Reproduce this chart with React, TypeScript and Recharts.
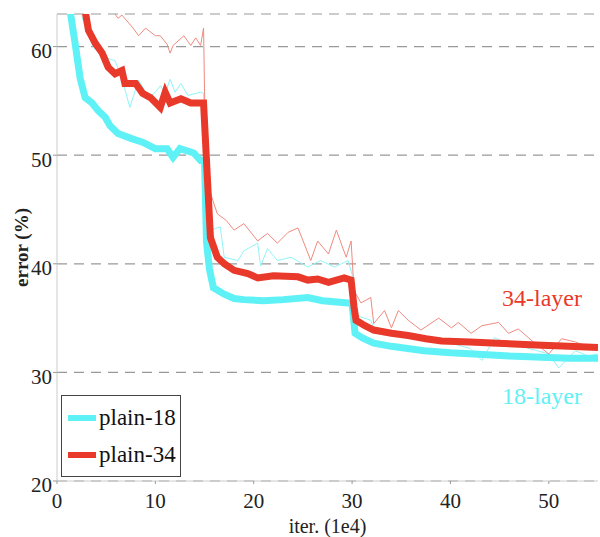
import React from 'react';
import { LineChart, Line, XAxis, YAxis, CartesianGrid } from 'recharts';

// x in 1e4 iterations, y = error (%)
const train18 = [
  [1.5, 70], [2.55, 62.7], [3.7, 59.9], [4.9, 59.0], [5.9, 58.7], [6.6, 57.1], [7.4, 54.4], [8.3, 56.9],
  [9.3, 55.3], [10.0, 55.8], [10.5, 56.4], [11.0, 55.7], [11.5, 57.0], [12.0, 55.8], [12.6, 56.6],
  [13.3, 55.5], [14.6, 55.8], [14.9, 55.7], [15.2, 46], [15.6, 43.1], [16.6, 43.4], [17, 40.6],
  [18.4, 40.3], [19, 41.2], [20.4, 41.9], [20.7, 39.8], [21.4, 41.4], [22.4, 40.3], [23.8, 40.6],
  [25.5, 39.7], [26.8, 40.3], [28.2, 39.7], [29.6, 40.3], [30.0, 39.0], [30.2, 35.4], [30.9, 35.1],
  [31.9, 34.8], [32.2, 34.1], [34, 33.6], [35.7, 33.2], [38, 32.9], [40, 32.7], [42, 32.2],
  [43.2, 31.1], [44.5, 33.2], [46, 32.5], [47.6, 32.3], [50, 31.7], [51, 30.4], [52.7, 32.0],
  [54, 31.5], [55, 31.7],
];

const train34 = [
  [4.0, 70], [5.5, 64], [5.9, 63], [6.2, 62.6], [6.6, 62.9], [7.65, 61.8], [8.3, 61.0], [9.0, 61.7],
  [10.0, 61.0], [10.5, 61.0], [11.2, 60.2], [11.5, 59.4], [11.8, 60.1], [12.9, 61.0], [13.6, 60.1],
  [14.1, 60.8], [14.6, 60.1], [14.9, 61.7], [15.1, 50], [15.6, 46.5], [16.3, 44.6], [17.2, 44.0],
  [18, 43.1], [19, 43.7], [20.4, 42.1], [21.4, 42.8], [22.4, 41.9], [23.5, 42.9], [24.5, 43.3],
  [25.8, 40.3], [26.5, 42.1], [27.6, 40.9], [28.4, 43.1], [29.4, 40.6], [29.9, 42.1], [30.2, 37.5],
  [30.9, 36.4], [31.9, 36.9], [32.2, 34.5], [33.3, 35.7], [34, 34.1], [34.7, 35.7], [35.7, 34.8],
  [37, 33.9], [38.8, 35.0], [40.1, 34.1], [40.8, 34.6], [42.1, 33.6], [43.2, 34.3], [44.9, 34.6],
  [45.9, 33.6], [46.9, 34.0], [48.3, 32.9], [50, 31.7], [51.3, 33.1], [52.7, 32.8], [54.1, 32.3],
  [55, 32.5],
];

const plain18 = [
  [1.0, 66], [1.33, 63.3], [1.84, 60.3], [2.35, 57.1], [2.86, 55.3], [3.57, 54.8], [4.18, 54.1],
  [4.9, 53.5], [5.4, 52.7], [6.2, 52.0], [7.65, 51.5], [8.7, 51.2], [10.0, 50.6], [11.2, 50.6],
  [11.8, 49.8], [12.5, 50.6], [13.9, 50.2], [14.6, 49.5], [15.0, 49.5], [15.2, 42], [15.5, 39.5],
  [15.9, 37.8], [17, 37.2], [18, 36.8], [19, 36.7], [21, 36.6], [23, 36.7], [25.5, 36.9], [27, 36.6],
  [29.6, 36.4], [30.0, 36.3], [30.3, 33.6], [31, 33.2], [32.2, 32.7], [34, 32.4], [37.3, 32.0],
  [40, 31.8], [42.4, 31.7], [46, 31.5], [49.3, 31.4], [52, 31.3], [55, 31.3],
];

const plain34 = [
  [2.5, 67], [2.86, 63.3], [3.2, 61.5], [3.9, 60.3], [4.6, 59.4], [5.2, 58.1], [5.9, 57.5],
  [6.6, 57.8], [6.9, 56.6], [8.0, 56.6], [8.7, 55.7], [9.5, 55.3], [10.5, 54.4], [11.0, 55.8],
  [11.5, 54.8], [12.6, 55.2], [13.6, 54.8], [14.9, 54.8], [15.3, 47.7], [15.6, 42.4], [16.3, 40.6],
  [17, 40.0], [18, 39.4], [19.4, 39.1], [20.4, 38.7], [22, 38.9], [24.5, 38.8], [25.5, 38.5],
  [26.5, 38.6], [27.6, 38.3], [29.2, 38.7], [29.9, 38.5], [30.2, 36], [30.4, 34.8], [31.3, 34.3],
  [32.2, 33.9], [34, 33.6], [35.7, 33.4], [37.5, 33.1], [39.1, 32.9], [42, 32.8], [44.2, 32.7],
  [47, 32.6], [49.3, 32.5], [52, 32.4], [55, 32.3],
];

const xTicks = [0, 10, 20, 30, 40, 50];
const yTicks = [20, 30, 40, 50, 60];

const CYAN = '#5ef1f6';
const RED = '#e8392a';
const FONT = '"Liberation Serif", "Times New Roman", serif';

const toPoints = (arr: number[][]) => arr.map(([x, y]) => ({ x, y }));

const legendItems = [
  { name: 'plain-18', color: CYAN },
  { name: 'plain-34', color: RED },
];

const YLabel = (props: any) => {
  const vb = props.viewBox || {};
  const cy = (vb.y ?? 14) + (vb.height ?? 467) / 2;
  return (
    <text
      x={28}
      y={cy}
      transform={`rotate(-90, 28, ${cy})`}
      textAnchor="middle"
      fill="#222"
      fontSize={19}
      fontWeight="bold"
      fontFamily={FONT}
    >
      error (%)
    </text>
  );
};

export default function App() {
  return (
    <div style={{ position: 'absolute', left: 0, top: 0, width: 600, height: 537, background: '#fff' }}>
      <LineChart width={600} height={537} margin={{ top: 14, right: 2, bottom: 0, left: 0 }}>
        <CartesianGrid vertical={false} stroke="#999" strokeDasharray="10 7" strokeWidth={1.2} />
        <XAxis
          type="number"
          dataKey="x"
          domain={[0, 55]}
          ticks={xTicks}
          allowDataOverflow
          height={56}
          axisLine={{ stroke: '#ccc' }}
          tickLine={{ stroke: '#999' }}
          tickSize={3}
          tickMargin={9}
          tick={{ fill: '#222', fontSize: 21, fontFamily: FONT }}
          label={{ value: 'iter. (1e4)', position: 'insideBottom', offset: 4, fill: '#222', fontSize: 20, fontFamily: FONT }}
        />
        <YAxis
          type="number"
          domain={[20, 63]}
          ticks={yTicks}
          allowDataOverflow
          width={57}
          axisLine={{ stroke: '#ccc' }}
          tickLine={{ stroke: '#999' }}
          tickSize={4}
          tickMargin={1}
          tick={{ fill: '#222', fontSize: 21, fontFamily: FONT, dy: 4 }}
          label={<YLabel />}
        />
        <Line data={toPoints(train18)} dataKey="y" stroke="#8ff5f8" strokeWidth={1} dot={false} isAnimationActive={false} />
        <Line data={toPoints(train34)} dataKey="y" stroke="#f08a80" strokeWidth={1} dot={false} isAnimationActive={false} />
        <Line data={toPoints(plain18)} dataKey="y" name="plain-18" stroke={CYAN} strokeWidth={7} dot={false} isAnimationActive={false} />
        <Line data={toPoints(plain34)} dataKey="y" name="plain-34" stroke={RED} strokeWidth={7} dot={false} isAnimationActive={false} />
      </LineChart>
      <div
        style={{
          position: 'absolute',
          left: 61,
          top: 395,
          width: 120,
          height: 82,
          border: '1px solid #444',
          background: '#fff',
          boxSizing: 'border-box',
          paddingTop: 3,
          fontFamily: FONT,
          fontSize: 23,
          color: '#111',
        }}
      >
        {legendItems.map((item) => (
          <div key={item.name} style={{ display: 'flex', alignItems: 'center', height: 37 }}>
            <div style={{ width: 28, height: 6, background: item.color, marginLeft: 6, marginRight: 3 }} />
            <span>{item.name}</span>
          </div>
        ))}
      </div>
      <div style={{ position: 'absolute', left: 502, top: 285, fontFamily: FONT, fontSize: 24, color: RED }}>34-layer</div>
      <div style={{ position: 'absolute', left: 502, top: 383, fontFamily: FONT, fontSize: 24, color: CYAN }}>18-layer</div>
    </div>
  );
}
